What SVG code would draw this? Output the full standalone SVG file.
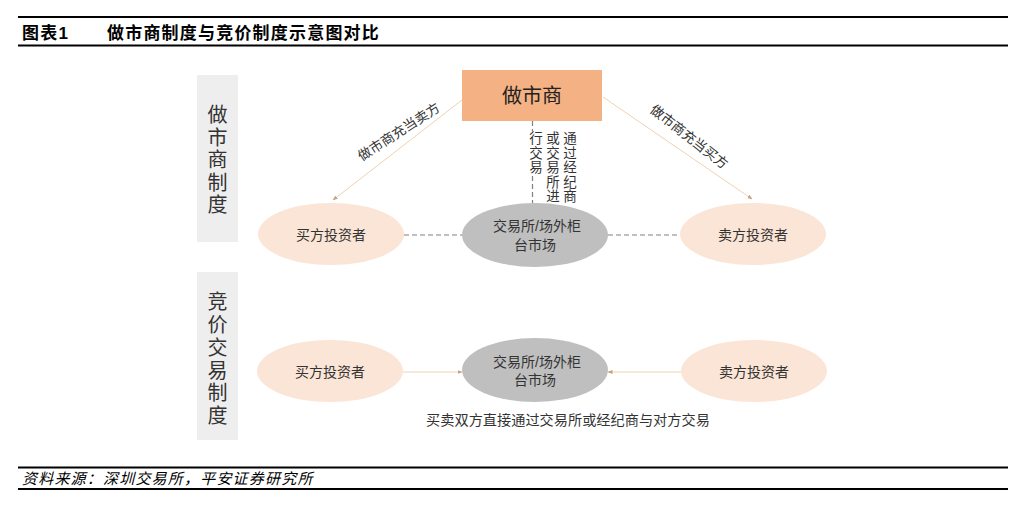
<svg xmlns="http://www.w3.org/2000/svg" width="1030" height="507" viewBox="0 0 1030 507">
<style>
text{font-family:"Liberation Sans","Noto Sans CJK SC",sans-serif;fill:#262626}
.rule{stroke:#000;stroke-width:2.2}
.side{fill:#EEEEEE}
.sideT{font-size:20px;text-anchor:middle;dominant-baseline:central;fill:#333}
.peach{fill:#FBE5D6}
.gray{fill:#BFBFBF}
.nodeT{font-size:14px;text-anchor:middle;dominant-baseline:central;fill:#333}
.lbl{font-size:13.5px;text-anchor:middle;dominant-baseline:central;fill:#333}
.vt{font-size:13.5px;text-anchor:middle;dominant-baseline:central;fill:#333}
.dash{stroke:#808080;stroke-width:1.2;stroke-dasharray:5 3;fill:none}
.tan{stroke:#F0D2B4;stroke-width:1;fill:none}
</style>
<defs>
<marker id="ah" viewBox="0 0 10 10" refX="9" refY="5" markerWidth="5" markerHeight="5" markerUnits="userSpaceOnUse" orient="auto">
<path d="M0,1 L10,5 L0,9 z" fill="#C9A07A"/>
</marker>
</defs>

<g id="header">
<line class="rule" x1="18" y1="17" x2="1008" y2="17"/>
<text x="22" y="39" style="font-size:17px;font-weight:bold;letter-spacing:1.2px;fill:#000">图表1</text>
<text x="107" y="39" style="font-size:17px;font-weight:bold;letter-spacing:1.2px;fill:#000">做市商制度与竞价制度示意图对比</text>
<line class="rule" x1="18" y1="45.5" x2="1008" y2="45.5"/>
</g>

<g id="side-mm">
<rect class="side" x="197" y="75" width="41" height="167"/>
<text class="sideT" x="217.5" y="115">做</text>
<text class="sideT" x="217.5" y="137.5">市</text>
<text class="sideT" x="217.5" y="160">商</text>
<text class="sideT" x="217.5" y="182.5">制</text>
<text class="sideT" x="217.5" y="205">度</text>
</g>
<g id="side-auction">
<rect class="side" x="197" y="272" width="41" height="168"/>
<text class="sideT" x="217.5" y="302">竞</text>
<text class="sideT" x="217.5" y="324.5">价</text>
<text class="sideT" x="217.5" y="347.5">交</text>
<text class="sideT" x="217.5" y="370.5">易</text>
<text class="sideT" x="217.5" y="393">制</text>
<text class="sideT" x="217.5" y="415.5">度</text>
</g>

<g id="connectors">
<line class="tan" x1="462" y1="100" x2="333" y2="200" marker-end="url(#ah)"/>
<line class="tan" x1="603" y1="97" x2="752" y2="199" marker-end="url(#ah)"/>
<line class="dash" x1="532.5" y1="121" x2="532.5" y2="131"/>
<line class="dash" x1="532.5" y1="176" x2="532.5" y2="203"/>
<line class="dash" x1="404" y1="235" x2="462" y2="235"/>
<line class="dash" x1="608" y1="235" x2="680" y2="235"/>
<line class="tan" x1="403" y1="372" x2="462" y2="372" marker-end="url(#ah)"/>
<line class="tan" x1="682" y1="372" x2="608" y2="372" marker-end="url(#ah)"/>
</g>

<g id="edge-labels">
<text class="lbl" transform="translate(399,132) rotate(-33)">做市商充当卖方</text>
<text class="lbl" transform="translate(689,137) rotate(38)">做市商充当买方</text>
<text class="vt" x="570" y="138">通</text>
<text class="vt" x="570" y="153">过</text>
<text class="vt" x="570" y="167.5">经</text>
<text class="vt" x="570" y="182">纪</text>
<text class="vt" x="570" y="196.5">商</text>
<text class="vt" x="553" y="138">或</text>
<text class="vt" x="553" y="153">交</text>
<text class="vt" x="553" y="167.5">易</text>
<text class="vt" x="553" y="182">所</text>
<text class="vt" x="553" y="196.5">进</text>
<text class="vt" x="536" y="138">行</text>
<text class="vt" x="536" y="153">交</text>
<text class="vt" x="536" y="167.5">易</text>
</g>

<g id="market-maker">
<rect x="462" y="70" width="140" height="51" fill="#F4B183"/>
<text x="532" y="96" style="font-size:20px;text-anchor:middle;dominant-baseline:central;fill:#222">做市商</text>
</g>

<g id="buyer-top">
<ellipse class="peach" cx="331" cy="234" rx="73" ry="31"/>
<text class="nodeT" x="331" y="235">买方投资者</text>
</g>
<g id="exchange-top">
<ellipse class="gray" cx="535" cy="235" rx="73" ry="32"/>
<text class="nodeT" x="537" y="226">交易所/场外柜</text>
<text class="nodeT" x="535" y="245">台市场</text>
</g>
<g id="seller-top">
<ellipse class="peach" cx="753" cy="234" rx="73" ry="31"/>
<text class="nodeT" x="753" y="235">卖方投资者</text>
</g>

<g id="buyer-bottom">
<ellipse class="peach" cx="330" cy="371" rx="73" ry="31"/>
<text class="nodeT" x="330" y="372">买方投资者</text>
</g>
<g id="exchange-bottom">
<ellipse class="gray" cx="535" cy="370" rx="73" ry="32"/>
<text class="nodeT" x="537" y="362">交易所/场外柜</text>
<text class="nodeT" x="535" y="380">台市场</text>
</g>
<g id="seller-bottom">
<ellipse class="peach" cx="754" cy="371" rx="73" ry="31"/>
<text class="nodeT" x="754" y="372">卖方投资者</text>
</g>

<text x="568" y="420" style="font-size:14.2px;text-anchor:middle;dominant-baseline:central;fill:#333">买卖双方直接通过交易所或经纪商与对方交易</text>

<g id="footer">
<line class="rule" x1="18" y1="467.5" x2="1008" y2="467.5"/>
<text x="22" y="484" style="font-size:15px;font-style:italic;letter-spacing:1.2px;fill:#000">资料来源：深圳交易所，平安证券研究所</text>
<line class="rule" x1="18" y1="489" x2="1008" y2="489"/>
</g>
</svg>
